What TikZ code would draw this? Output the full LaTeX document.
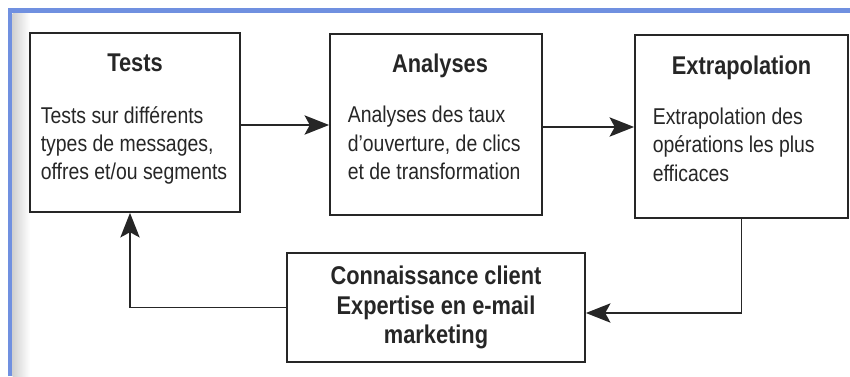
\documentclass[tikz,border=0pt]{standalone}
\usepackage{fontspec}
\setmainfont{Liberation Sans}[FakeStretch=0.85]
\usepackage{tikz}
\usetikzlibrary{arrows.meta, positioning, calc}
\definecolor{cadre}{HTML}{7090E0}
\definecolor{encre}{HTML}{262626}

\begin{document}
\begin{tikzpicture}[>={Stealth[length=14pt, width=11pt, inset=3pt]}, thick,
  boite/.style={draw=encre, line width=1pt, inner sep=0pt},
  titre/.style={font=\fontsize{14.6pt}{17pt}\selectfont\bfseries, text=encre, anchor=base},
  texte/.style={font=\fontsize{13pt}{16pt}\selectfont, text=encre, align=left, anchor=north west, inner sep=0pt},
  fleche/.style={->, draw=encre, line width=0.9pt}]
  \useasboundingbox (0,0) rectangle (17,7.52);

  % Cadre
  \shade[left color=black!18, right color=white] (0.25,0) rectangle (0.6,7.26);
  \draw[cadre, line width=2.8pt] (0.2,0) -- (0.2,7.31) -- (17,7.31);

  % Etapes
  \node[boite, minimum width=4.2cm, minimum height=3.58cm] (tests) at (2.7,5.07) {};
  \node[boite, minimum width=4.24cm, minimum height=3.62cm] (analyses) at (8.72,5.03) {};
  \node[boite, minimum width=4.26cm, minimum height=3.66cm] (extra) at (14.83,4.99) {};

  \node[titre] (tests-t) at ([yshift=-0.78cm]tests.north) {Tests};
  \node[titre] (analyses-t) at ([xshift=0.08cm, yshift=-0.78cm]analyses.north) {Analyses};
  \node[titre] (extra-t) at ([yshift=-0.8cm]extra.north) {Extrapolation};

  \node[texte] (tests-b) at ([xshift=0.22cm, yshift=-1.47cm]tests.north west)
    {Tests sur différents\\types de messages,\\offres et/ou segments};
  \node[texte] (analyses-b) at ([xshift=0.36cm, yshift=-1.45cm]analyses.north west)
    {Analyses des taux\\d’ouverture, de clics\\et de transformation};
  \node[texte] (extra-b) at ([xshift=0.36cm, yshift=-1.47cm]extra.north west)
    {Extrapolation des\\opérations les plus\\efficaces};

  % Retour
  \node[boite, minimum width=5.96cm, minimum height=2.18cm, align=center, text=encre,
    font=\fontsize{14.6pt}{17pt}\selectfont\bfseries] (know) at (8.72,1.37)
    {Connaissance client\\Expertise en e-mail\\marketing};

  \draw[fleche] ([yshift=-0.05cm]tests.east) -- ([yshift=-0.05cm]tests.east -| analyses.west);
  \draw[fleche] ([yshift=-0.05cm]analyses.east) -- ([yshift=-0.05cm]analyses.east -| extra.west);
  \draw[fleche] (extra.south) |- ([yshift=-0.11cm]know.east);
  \draw[fleche] (know.west) -| ([xshift=-0.1cm]tests.south);
\end{tikzpicture}
\end{document}
